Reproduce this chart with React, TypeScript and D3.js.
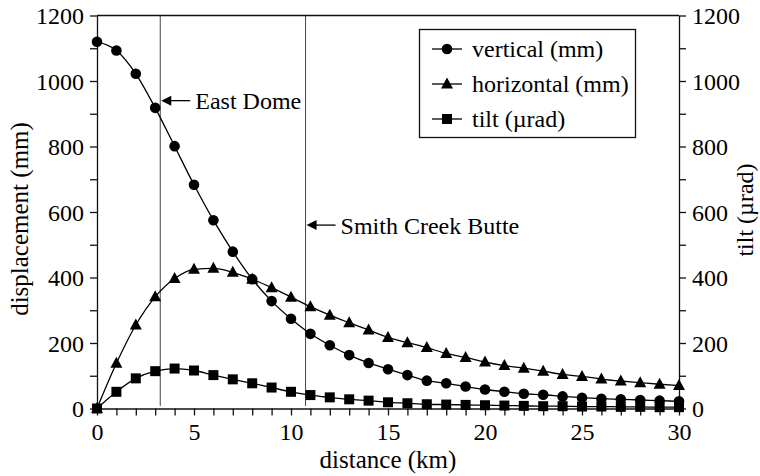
import React, { useEffect, useRef } from "react";
import * as d3 from "d3";

const distance = d3.range(0, 31); // km, 0..30
const vertical = [
  1120, 1093, 1022, 918, 801, 683, 575, 479, 395, 328, 274, 228, 193, 163, 139,
  120, 102, 85, 77, 67, 58, 51, 45, 42, 37, 33, 30, 28, 26, 24, 22,
];
const horizontal = [
  0, 138, 255, 341, 397, 425, 428, 416, 395, 369, 340, 311, 285, 262, 240,
  217, 201, 186, 168, 156, 142, 131, 123, 114, 104, 98, 90, 84, 79, 74, 70,
];
const tilt = [
  0, 51, 92, 114, 122, 116, 102, 89, 77, 64, 51, 41, 34, 28, 24,
  19, 16, 13, 12, 11, 10, 9, 8, 7, 7, 6, 6, 5, 5, 4, 4,
];
const seriesNames = ["vertical (mm)", "horizontal (mm)", "tilt (\u00b5rad)"];
const markers = ["circle", "triangle", "square"];
const xTicks = [0, 5, 10, 15, 20, 25, 30];
const yTicks = [0, 200, 400, 600, 800, 1000, 1200];
const annotations = [
  { x: 3.26, label: "East Dome", at: 940 },
  { x: 10.75, label: "Smith Creek Butte", at: 560 },
];

const FONT = "'Liberation Serif', 'Times New Roman', serif";

const App: React.FC = () => {
  const svgRef = useRef<SVGSVGElement | null>(null);

  useEffect(() => {
    if (!svgRef.current) return;
    const svg = d3.select(svgRef.current);
    svg.selectAll("*").remove();

    const margin = { top: 15.5, right: 81, bottom: 67.5, left: 97 };
    const width = 760;
    const height = 476;

    const x = d3
      .scaleLinear()
      .domain([0, 30])
      .range([margin.left, width - margin.right]);
    const y = d3
      .scaleLinear()
      .domain([0, 1200])
      .range([height - margin.bottom, margin.top]);
    const yR = d3
      .scaleLinear()
      .domain([0, 1200])
      .range([height - margin.bottom, margin.top]);

    const g = svg.append("g");

    // annotation lines
    annotations.forEach((a) => {
      g.append("line")
        .attr("x1", x(a.x))
        .attr("x2", x(a.x))
        .attr("y1", y(1200))
        .attr("y2", y(8))
        .attr("stroke", "#444")
        .attr("stroke-width", 1);
    });

    // plot frame: top line
    g.append("line")
      .attr("x1", x(0))
      .attr("x2", x(30))
      .attr("y1", y(1200))
      .attr("y2", y(1200))
      .attr("stroke", "#111")
      .attr("stroke-width", 1.3);

    // axes
    const xAxis = d3
      .axisBottom(x)
      .tickValues(d3.range(0, 31))
      .tickSize(7)
      .tickSizeOuter(0)
      .tickFormat((d) => (xTicks.includes(+d) ? String(d) : ""));
    const yAxis = d3
      .axisLeft(y)
      .tickValues(d3.range(0, 1201, 100))
      .tickSize(7)
      .tickSizeOuter(0)
      .tickFormat((d) => (yTicks.includes(+d) ? String(d) : ""));
    const yAxisR = d3
      .axisRight(yR)
      .tickValues(d3.range(0, 1201, 100))
      .tickSize(7)
      .tickSizeOuter(0)
      .tickFormat((d) => (yTicks.includes(+d) ? String(d) : ""));

    const styleAxis = (sel: d3.Selection<SVGGElement, unknown, null, undefined>) => {
      sel.attr("font-family", FONT);
      sel.selectAll("path").attr("stroke", "#111").attr("stroke-width", 1.3);
      sel.selectAll("line").attr("stroke", "#111").attr("stroke-width", 1.3);
      sel
        .selectAll("text")
        .attr("font-family", FONT)
        .attr("font-size", 24)
        .attr("fill", "#000");
    };

    const gx = g
      .append("g")
      .attr("transform", `translate(0, ${y(0)})`)
      .call(xAxis);
    gx.selectAll("text").attr("dy", "0.9em");
    styleAxis(gx);

    const gy = g
      .append("g")
      .attr("transform", `translate(${x(0)}, 0)`)
      .call(yAxis);
    gy.selectAll("text").attr("x", -13).attr("dy", "0.35em");
    styleAxis(gy);

    const gyR = g
      .append("g")
      .attr("transform", `translate(${x(30)}, 0)`)
      .call(yAxisR);
    gyR.selectAll("text").attr("x", 13).attr("dy", "0.35em");
    styleAxis(gyR);

    // axis titles
    g.append("text")
      .attr("x", (x(0) + x(30)) / 2)
      .attr("y", 468)
      .attr("text-anchor", "middle")
      .attr("font-family", FONT)
      .attr("font-size", 25)
      .text("distance (km)");

    g.append("text")
      .attr("transform", `translate(28, 219) rotate(-90)`)
      .attr("text-anchor", "middle")
      .attr("font-family", FONT)
      .attr("font-size", 25)
      .text("displacement (mm)");

    g.append("text")
      .attr("transform", `translate(753, 210) rotate(-90)`)
      .attr("text-anchor", "middle")
      .attr("font-family", FONT)
      .attr("font-size", 24)
      .text("tilt (\u00b5rad)");

    // annotation arrows + labels
    annotations.forEach((a) => {
      const ax = x(a.x) + 1;
      const ay = y(a.at);
      g.append("path")
        .attr("d", `M${ax},${ay} l10,-5 l0,10 z`)
        .attr("fill", "#000");
      g.append("line")
        .attr("x1", ax + 8)
        .attr("x2", ax + 29)
        .attr("y1", ay)
        .attr("y2", ay)
        .attr("stroke", "#000")
        .attr("stroke-width", 1.3);
      g.append("text")
        .attr("x", ax + 34)
        .attr("y", ay)
        .attr("dy", "0.35em")
        .attr("font-family", FONT)
        .attr("font-size", 24)
        .text(a.label);
    });

    // series
    const allSeries = [
      { values: vertical, scale: y, marker: markers[0] },
      { values: horizontal, scale: y, marker: markers[1] },
      { values: tilt, scale: yR, marker: markers[2] },
    ];

    const drawMarker = (
      sel: d3.Selection<SVGGElement, unknown, null, undefined>,
      kind: string,
      cx: number,
      cy: number
    ) => {
      if (kind === "circle") {
        sel.append("circle").attr("cx", cx).attr("cy", cy).attr("r", 5.3).attr("fill", "#000");
      } else if (kind === "triangle") {
        sel
          .append("path")
          .attr("d", `M${cx},${cy - 6.5} L${cx + 6},${cy + 4.5} L${cx - 6},${cy + 4.5} Z`)
          .attr("fill", "#000");
      } else {
        sel
          .append("rect")
          .attr("x", cx - 5)
          .attr("y", cy - 5)
          .attr("width", 10)
          .attr("height", 10)
          .attr("fill", "#000");
      }
    };

    allSeries.forEach((s) => {
      const line = d3
        .line<number>()
        .x((_, i) => x(distance[i]))
        .y((d) => s.scale(d))
        .curve(d3.curveMonotoneX);
      g.append("path")
        .datum(s.values)
        .attr("d", line)
        .attr("fill", "none")
        .attr("stroke", "#000")
        .attr("stroke-width", 1.3);
    });

    allSeries.forEach((s) => {
      const mg = g.append("g");
      s.values.forEach((v, i) => drawMarker(mg, s.marker, x(distance[i]), s.scale(v)));
    });

    // legend
    const lg = g.append("g");
    lg.append("rect")
      .attr("x", 419.5)
      .attr("y", 29.5)
      .attr("width", 216)
      .attr("height", 108)
      .attr("fill", "#fff")
      .attr("stroke", "#111")
      .attr("stroke-width", 1.3);
    seriesNames.forEach((name, i) => {
      const cy = 49 + i * 35;
      lg.append("line")
        .attr("x1", 432)
        .attr("x2", 462)
        .attr("y1", cy)
        .attr("y2", cy)
        .attr("stroke", "#000")
        .attr("stroke-width", 1.3);
      drawMarker(lg, markers[i], 447, cy);
      lg.append("text")
        .attr("x", 472)
        .attr("y", cy)
        .attr("dy", "0.35em")
        .attr("font-family", FONT)
        .attr("font-size", 24)
        .text(name);
    });
  }, []);

  return (
    <svg
      ref={svgRef}
      width={760}
      height={476}
      style={{ position: "absolute", left: 0, top: 0, background: "#fff" }}
    />
  );
};

export default App;
